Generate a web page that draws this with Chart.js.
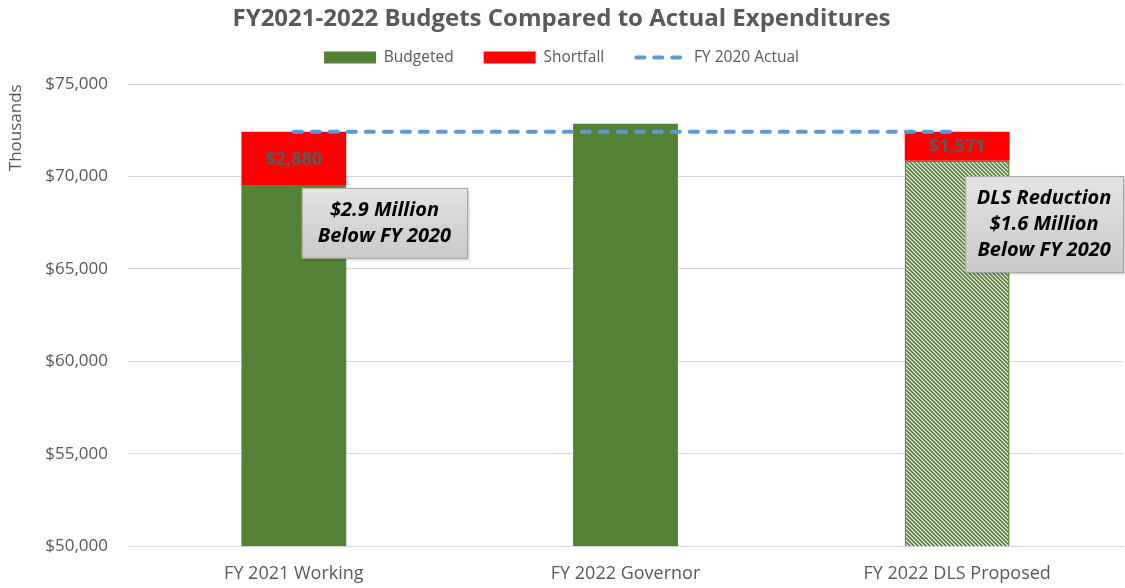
<!DOCTYPE html>
<html>
<head>
<meta charset="utf-8">
<script src="https://cdn.jsdelivr.net/npm/chart.js@4.4.1/dist/chart.umd.min.js"></script>
<style>
  html, body { margin: 0; padding: 0; background: #fff; }
  #wrap { width: 1125px; height: 588px; }
</style>
</head>
<body>
<div id="wrap"><canvas id="budgetChart"></canvas></div>
<script>
const categories = ['FY 2021 Working', 'FY 2022 Governor', 'FY 2022 DLS Proposed'];
const budgeted = [69546, 72860, 70855];
const shortfall = [2880, null, 1571];
const fy2020Actual = [72426, 72426, 72426];
const yTicks = [50000, 55000, 60000, 65000, 70000, 75000];
const notes = [
    { index: 0, value: 69390, lines: ['$2.9 Million', 'Below FY 2020'] },
    { index: 2, value: 70030, lines: ['DLS Reduction', '$1.6 Million', 'Below FY 2020'] }
];

const GREEN = '#548235';
const RED = '#ff0000';
const BLUE = '#5b9bd5';
const GREY = '#595959';
const FONT = '"Open Sans", sans-serif';

// diagonal hatch for the proposed bar
function hatchPattern() {
    const s = 4;
    const c = document.createElement('canvas');
    c.width = s; c.height = s;
    const g = c.getContext('2d');
    g.fillStyle = '#fff';
    g.fillRect(0, 0, s, s);
    g.strokeStyle = GREEN;
    g.lineWidth = 1.7;
    g.beginPath();
    g.moveTo(-s / 2, s / 2); g.lineTo(s / 2, s * 1.5);
    g.moveTo(0, 0); g.lineTo(s, s);
    g.moveTo(s / 2, -s / 2); g.lineTo(s * 1.5, s / 2);
    g.stroke();
    return g.createPattern(c, 'repeat');
}

const money = v => '$' + v.toLocaleString('en-US');

// a bit more room between legend and plot
const legendSpace = {
    id: 'legendSpace',
    afterInit(chart) {
        const lg = chart.legend;
        if (!lg) return;
        const fit = lg.fit;
        lg.fit = function () {
            fit.call(this);
            this.height += 9;
        };
    }
};

// values inside the red segments
const shortfallLabels = {
    id: 'shortfallLabels',
    afterDatasetsDraw(chart) {
        const ctx = chart.ctx;
        const meta = chart.getDatasetMeta(1);
        ctx.save();
        ctx.font = 'bold 18px ' + FONT;
        ctx.fillStyle = GREY;
        ctx.textAlign = 'center';
        ctx.textBaseline = 'middle';
        meta.data.forEach((bar, i) => {
            if (!shortfall[i]) return;
            ctx.fillText(money(shortfall[i]), bar.x, (bar.y + bar.base) / 2 + 1);
        });
        ctx.restore();
    }
};

// dashed sample in the legend for the line series
const legendDash = {
    id: 'legendDash',
    afterDraw(chart) {
        const lg = chart.legend;
        const box = lg.legendHitBoxes[2];
        if (!box) return;
        const ctx = chart.ctx;
        const bw = lg.options.labels.boxWidth;
        const y = box.top + box.height / 2;
        ctx.save();
        ctx.strokeStyle = BLUE;
        ctx.lineWidth = 4;
        ctx.lineCap = 'round';
        ctx.setLineDash([8, 10]);
        ctx.beginPath();
        ctx.moveTo(box.left + 2, y);
        ctx.lineTo(box.left + bw, y);
        ctx.stroke();
        ctx.restore();
    }
};

// grey call-out boxes
const callouts = {
    id: 'callouts',
    afterDraw(chart) {
        const ctx = chart.ctx;
        const xs = chart.scales.x, ys = chart.scales.y;
        ctx.save();
        ctx.font = 'italic bold 20px ' + FONT;
        notes.forEach(n => {
            const lineH = 26;
            let w = 0;
            n.lines.forEach(l => { w = Math.max(w, ctx.measureText(l).width); });
            w += 32;
            const h = n.lines.length * lineH + 18;
            const left = xs.getPixelForValue(n.index) + 8;
            w = Math.min(w, chart.width - 2 - left);
            const top = ys.getPixelForValue(n.value);
            ctx.save();
            ctx.shadowColor = 'rgba(0,0,0,0.3)';
            ctx.shadowOffsetX = 2;
            ctx.shadowOffsetY = 2;
            ctx.shadowBlur = 3;
            const grad = ctx.createLinearGradient(left, top, left, top + h);
            grad.addColorStop(0, '#e4e4e4');
            grad.addColorStop(0.5, '#d6d6d6');
            grad.addColorStop(1, '#c9c9c9');
            ctx.fillStyle = grad;
            ctx.fillRect(left, top, w, h);
            ctx.restore();
            ctx.strokeStyle = '#a6a6a6';
            ctx.lineWidth = 1;
            ctx.strokeRect(left + 0.5, top + 0.5, w, h);
            ctx.fillStyle = '#000';
            ctx.textAlign = 'center';
            ctx.textBaseline = 'middle';
            n.lines.forEach((l, k) => {
                ctx.fillText(l, left + w / 2, top + 9 + lineH * (k + 0.5));
            });
        });
        ctx.restore();
    }
};

const ctx = document.getElementById('budgetChart').getContext('2d');
new Chart(ctx, {
    type: 'bar',
    data: {
        labels: categories,
        datasets: [
            {
                label: 'Budgeted',
                data: budgeted,
                backgroundColor: [GREEN, GREEN, hatchPattern()],
                borderColor: GREEN,
                borderWidth: [0, 0, 1.5],
                borderSkipped: false,
                stack: 'bars',
                order: 1
            },
            {
                label: 'Shortfall',
                data: shortfall,
                backgroundColor: RED,
                borderWidth: 0,
                stack: 'bars',
                order: 1
            },
            {
                label: 'FY 2020 Actual',
                type: 'line',
                data: fy2020Actual,
                borderColor: BLUE,
                backgroundColor: BLUE,
                borderWidth: 4,
                borderDash: [8, 10],
                borderCapStyle: 'round',
                pointRadius: 0,
                fill: false,
                stack: 'line',
                order: 0
            }
        ]
    },
    options: {
        responsive: true,
        maintainAspectRatio: false,
        animation: false,
        layout: { padding: { left: 0, right: 2, top: 2, bottom: 0 } },
        datasets: { bar: { barPercentage: 1, categoryPercentage: 0.316 } },
        plugins: {
            title: {
                display: true,
                text: 'FY2021-2022 Budgets Compared to Actual Expenditures',
                color: GREY,
                font: { family: FONT, size: 24, weight: 'bold' },
                padding: { top: 3, bottom: -14 }
            },
            legend: {
                labels: {
                    color: GREY,
                    font: { family: FONT, size: 15.5 },
                    boxWidth: 52,
                    boxHeight: 12,
                    padding: 30,
                    sort: (a, b) => a.datasetIndex - b.datasetIndex,
                    generateLabels(chart) {
                        const items = Chart.defaults.plugins.legend.labels.generateLabels(chart);
                        items.forEach(it => {
                            it.lineWidth = 0;
                            it.lineDash = [];
                            if (it.datasetIndex === 0) { it.fillStyle = GREEN; it.strokeStyle = GREEN; }
                            if (it.datasetIndex === 2) { it.fillStyle = 'rgba(0,0,0,0)'; it.strokeStyle = 'rgba(0,0,0,0)'; }
                        });
                        return items;
                    }
                }
            },
            tooltip: { enabled: false }
        },
        scales: {
            x: {
                stacked: true,
                grid: { display: false },
                border: { color: '#d9d9d9' },
                afterFit: axis => { axis.height = 42; },
                ticks: { color: GREY, font: { family: FONT, size: 18 }, padding: 9 }
            },
            y: {
                stacked: true,
                min: yTicks[0],
                max: yTicks[yTicks.length - 1],
                afterBuildTicks: axis => { axis.ticks = yTicks.map(v => ({ value: v })); },
                afterFit: axis => { axis.width = 128; },
                grid: { color: '#d9d9d9', drawTicks: false },
                border: { display: false },
                title: {
                    display: true,
                    text: 'Thousands',
                    align: 'end',
                    color: GREY,
                    font: { family: FONT, size: 17 },
                    padding: { top: 6, bottom: 0 }
                },
                ticks: {
                    color: GREY,
                    font: { family: FONT, size: 17 },
                    padding: 20,
                    callback: v => money(v)
                }
            }
        }
    },
    plugins: [legendSpace, shortfallLabels, callouts, legendDash]
});
</script>
</body>
</html>
